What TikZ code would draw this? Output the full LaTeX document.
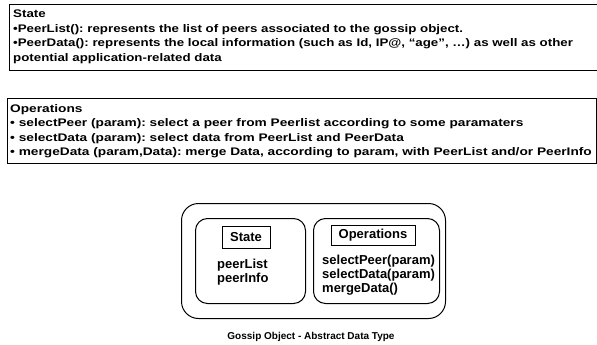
\documentclass[tikz,border=0pt]{standalone}
\usepackage{fontspec}
\setmainfont{Liberation Sans}
\newfontfamily\widesans[FakeStretch=1.21]{Liberation Sans}
\newfontfamily\widersans[FakeStretch=1.245]{Liberation Sans}
\usetikzlibrary{positioning}
\frenchspacing

\tikzstyle{outline} = [draw,line width=1pt]
\tikzstyle{infobox} = [outline,rectangle,inner sep=0pt,anchor=north west]
\tikzstyle{infotext} = [font=\widesans\fontsize{11}{14.5}\selectfont\bfseries,align=left,inner sep=0pt,anchor=north west]
\tikzstyle{optext} = [infotext,font=\widersans\fontsize{11}{14.5}\selectfont\bfseries]
\tikzstyle{adtbox} = [outline,rectangle,rounded corners=12pt,inner sep=0pt,anchor=north west]
\tikzstyle{tagbox} = [outline,rectangle,inner sep=0pt,font=\fontsize{13}{14}\selectfont\bfseries]
\tikzstyle{member} = [font=\fontsize{13}{14}\selectfont\bfseries,align=left,inner sep=0pt,anchor=north west]
\tikzstyle{caption} = [font=\fontsize{10}{12}\selectfont\bfseries]

\begin{document}
\begin{tikzpicture}[x=1pt,y=-1pt]
    \useasboundingbox (0,0) rectangle (597,345);
    %% description boxes
    \node[infobox,minimum width=590pt,minimum height=66pt] (statebox) at (9,4) {};
    \node[infotext] (statetext) at (13,10) {State\\
      •PeerList(): represents the list of peers associated to the gossip object.\\
      •PeerData(): represents the local information (such as Id, IP@, “age”, …) as well as other\\
      potential application-related data};
    \node[infobox,minimum width=589pt,minimum height=65pt] (opsbox) at (7,98) {};
    \node[optext] (opstext) at (10,104) {Operations\\
      • selectPeer (param): select a peer from Peerlist according to some paramaters\\
      • selectData (param): select data from PeerList and PeerData\\
      • mergeData (param,Data): merge Data, according to param, with PeerList and/or PeerInfo};
    %% abstract data type
    \node[adtbox,rounded corners=17pt,minimum width=264pt,minimum height=115pt] (adt) at (181,203) {};
    \node[adtbox,minimum width=110pt,minimum height=85pt] (statepart) at (195,218) {};
    \node[adtbox,minimum width=126pt,minimum height=85pt] (opspart) at (313,218) {};
    \node[tagbox,minimum width=48pt,minimum height=22pt] (statetag) at (246,237) {State};
    \node[tagbox,minimum width=84pt,minimum height=20pt] (opstag) at (373,235) {Operations};
    \node[member] (statemembers) at (217,259) {peerList\\peerInfo};
    \node[member] (opsmembers) at (322,255) {selectPeer(param)\\selectData(param)\\mergeData()};
    \node[caption] (adtcaption) at (311,337) {Gossip Object - Abstract Data Type};
\end{tikzpicture}
\end{document}
